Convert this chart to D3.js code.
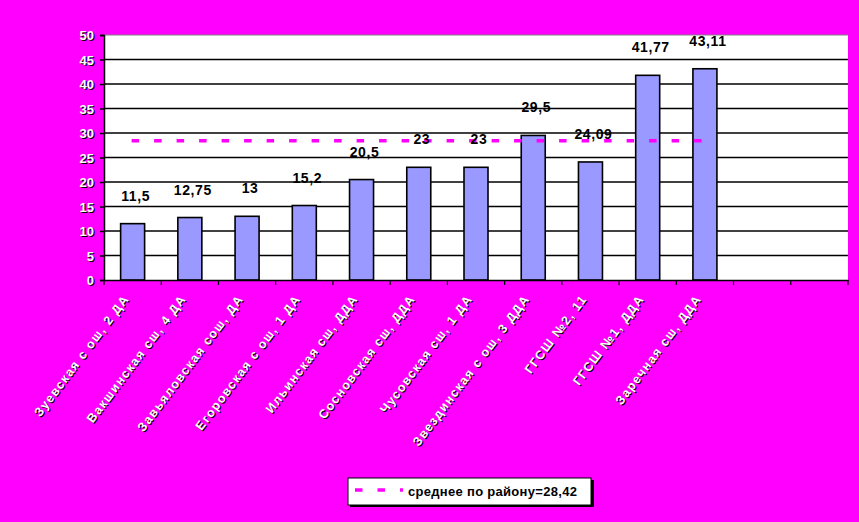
<!DOCTYPE html>
<html><head><meta charset="utf-8">
<script src="https://cdn.jsdelivr.net/npm/d3@7"></script>
<style>html,body{margin:0;padding:0;background:#FF00FF;}svg{display:block;}</style>
</head><body>
<svg id="c" width="859" height="522"></svg>
<script>
const categories = [
  "Зуевская с ош, 2 ДА",
  "Вакшинская сш, 4 ДА",
  "Завьяловская сош, ДА",
  "Егоровская с ош, 1 ДА",
  "Ильинская сш, ДДА",
  "Сосновская сш, ДДА",
  "Чусовская сш, 1 ДА",
  "Звездинская с ош, 3 ДДА",
  "ГГСШ №2, 11",
  "ГГСШ №1, ДДА",
  "Заречная сш, ДДА",
  "",
  ""
];
const values = [11.5, 12.75, 13, 15.2, 20.5, 23, 23, 29.5, 24.09, 41.77, 43.11, null, null];
const valueLabels = ["11,5", "12,75", "13", "15,2", "20,5", "23", "23", "29,5", "24,09", "41,77", "43,11", "", ""];
const average = 28.42;
const averageLabel = "среднее по району=28,42";
const yTicks = [0, 5, 10, 15, 20, 25, 30, 35, 40, 45, 50];

const svg = d3.select("#c");
const L = 104, R = 848, T = 35, B = 280;

const x = d3.scaleBand().domain(d3.range(categories.length)).range([L, R]).paddingInner(0).paddingOuter(0);
const y = d3.scaleLinear().domain([0, 50]).range([B, T]);

// plot area
svg.append("rect").attr("x", L).attr("y", T).attr("width", R - L).attr("height", B - T).attr("fill", "#fff");

// gridlines
svg.append("g").selectAll("line").data(yTicks.filter(d => d > 0)).join("line")
  .attr("x1", L).attr("x2", R)
  .attr("y1", d => y(d)).attr("y2", d => y(d))
  .attr("stroke", d => d === 50 ? "#808080" : "#000")
  .attr("stroke-width", d => d === 50 ? 1 : 1.6);

// bars
const bw = 24;
const idx = d3.range(values.length).filter(i => values[i] != null);
svg.append("g").selectAll("rect").data(idx).join("rect")
  .attr("x", i => x(i) + x.bandwidth() / 2 - bw / 2)
  .attr("y", i => y(values[i]))
  .attr("width", bw)
  .attr("height", i => B - y(values[i]))
  .attr("fill", "#9999FF")
  .attr("stroke", "#000")
  .attr("stroke-width", 1.6);

// average line
const first = idx[0], last = idx[idx.length - 1];
svg.append("line")
  .attr("x1", x(first) + x.bandwidth() / 2 - 1)
  .attr("x2", x(last) + x.bandwidth() / 2 + 2)
  .attr("y1", y(average)).attr("y2", y(average))
  .attr("stroke", "#FF00FF").attr("stroke-width", 3.5)
  .attr("stroke-dasharray", "7.5,15");

// value labels
svg.append("g").selectAll("text").data(idx).join("text")
  .attr("x", i => x(i) + x.bandwidth() / 2 + 3)
  .attr("y", i => y(values[i]) - 23)
  .attr("text-anchor", "middle")
  .attr("font-family", "Liberation Sans, Arial, sans-serif")
  .attr("font-weight", "bold").attr("font-size", 14)
  .attr("letter-spacing", 0.6)
  .attr("fill", "#000")
  .text(i => valueLabels[i]);

// y axis
const yAxis = d3.axisLeft(y).tickValues(yTicks).tickSize(4).tickPadding(5);
const gy = svg.append("g").attr("transform", `translate(${L},0)`).call(yAxis);
gy.select(".domain").attr("stroke", "#000").attr("stroke-width", 1.5);
gy.selectAll(".tick line").attr("stroke", "#000").attr("stroke-width", 1.5);
gy.selectAll(".tick text").remove();
const yl = svg.append("g");
yTicks.forEach(t => {
  [["#000", 1, 1], ["#fff", 0, 0]].forEach(([c, dx, dy]) => {
    yl.append("text").attr("x", 94 + dx).attr("y", y(t) + 5 + dy)
      .attr("text-anchor", "end")
      .attr("font-family", "Liberation Sans, Arial, sans-serif")
      .attr("font-weight", "bold").attr("font-size", 13)
      .attr("fill", c).text(t);
  });
});

// x axis
const xAxis = d3.axisBottom(x).tickSize(0).tickFormat("");
const gx = svg.append("g").attr("transform", `translate(0,${B})`).call(xAxis);
gx.select(".domain").attr("stroke", "#000").attr("stroke-width", 1.5);
svg.append("g").selectAll("line").data(d3.range(categories.length + 1)).join("line")
  .attr("x1", i => i < categories.length ? x(i) : R)
  .attr("x2", i => i < categories.length ? x(i) : R)
  .attr("y1", B).attr("y2", B + 5)
  .attr("stroke", "#000").attr("stroke-width", 1.2);

// x labels
const xl = svg.append("g");
categories.forEach((c, i) => {
  if (!c) return;
  const cx = x(i) + x.bandwidth() / 2 - 3, cy = 299;
  [["#000", 1, 1], ["#fff", 0, 0]].forEach(([col, dx, dy]) => {
    xl.append("text")
      .attr("transform", `translate(${cx + dx},${cy + dy}) rotate(-53)`)
      .attr("text-anchor", "end")
      .attr("font-family", "Liberation Sans, Arial, sans-serif")
      .attr("font-weight", "bold").attr("font-size", 12.5)
      .attr("letter-spacing", 1.3)
      .attr("fill", col).text(c);
  });
});

// legend
const lg = svg.append("g");
lg.append("rect").attr("x", 350).attr("y", 480).attr("width", 244).attr("height", 27).attr("fill", "#000");
lg.append("rect").attr("x", 348).attr("y", 478).attr("width", 243).attr("height", 27)
  .attr("fill", "#fff").attr("stroke", "#000").attr("stroke-width", 1);
lg.append("line").attr("x1", 355).attr("x2", 403).attr("y1", 490).attr("y2", 490)
  .attr("stroke", "#FF00FF").attr("stroke-width", 3.5).attr("stroke-dasharray", "7.5,15");
lg.append("text").attr("x", 408).attr("y", 496)
  .attr("font-family", "Liberation Sans, Arial, sans-serif")
  .attr("font-weight", "bold").attr("font-size", 13)
  .attr("letter-spacing", 0.3)
  .attr("fill", "#000").text(averageLabel);
</script>
</body></html>
